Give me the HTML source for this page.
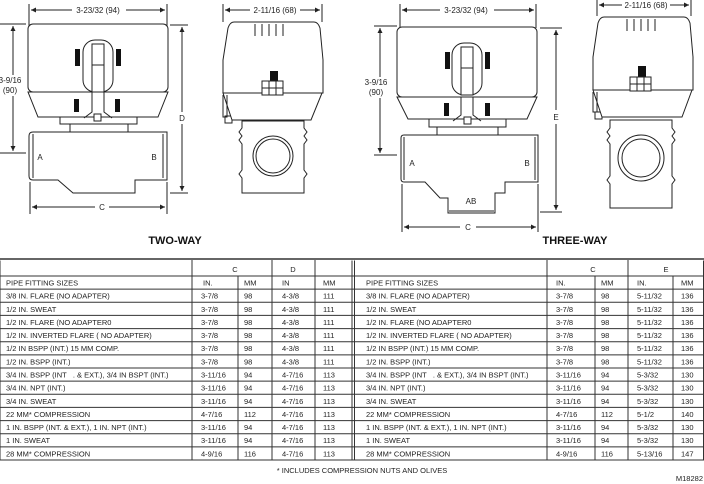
<!DOCTYPE html>
<html><head><style>
html,body{margin:0;padding:0;background:#fff;}
svg{display:block;font-family:"Liberation Sans",sans-serif;}
.t{font-size:7.5px;fill:#222;}
.d{font-size:8px;fill:#222;}
.l{stroke:#222;stroke-width:1;fill:none;}
.s{stroke:#222;stroke-width:1;fill:#fff;}
</style></head><body>
<svg width="704" height="484" viewBox="0 0 704 484" xmlns="http://www.w3.org/2000/svg">
<defs>
<marker id="ar" viewBox="0 0 10 10" refX="10" refY="5" markerWidth="6" markerHeight="5" orient="auto-start-reverse"><path d="M0,0L10,5L0,10z" fill="#222"/></marker>
</defs>

<!-- ===== TWO-WAY FRONT ===== -->
<g class="l">
<line x1="29" y1="4" x2="29" y2="26"/><line x1="167" y1="4" x2="167" y2="26"/>
<line x1="31" y1="10" x2="72" y2="10" marker-start="url(#ar)"/><line x1="126" y1="10" x2="165" y2="10" marker-end="url(#ar)"/>
<line x1="0" y1="24" x2="26" y2="24"/><line x1="0" y1="153" x2="26" y2="153"/>
<line x1="13" y1="26" x2="13" y2="75" marker-start="url(#ar)"/><line x1="13" y1="96" x2="13" y2="151" marker-end="url(#ar)"/>
<line x1="170" y1="25" x2="188" y2="25"/><line x1="170" y1="193" x2="188" y2="193"/>
<line x1="182" y1="27" x2="182" y2="112" marker-start="url(#ar)"/><line x1="182" y1="124" x2="182" y2="191" marker-end="url(#ar)"/>
<line x1="30" y1="182" x2="30" y2="214"/><line x1="167" y1="182" x2="167" y2="214"/>
<line x1="32" y1="207" x2="95" y2="207" marker-start="url(#ar)"/><line x1="109" y1="207" x2="165" y2="207" marker-end="url(#ar)"/>
</g>
<text class="d" x="98" y="13" text-anchor="middle">3-23/32 (94)</text>
<text class="d" x="10" y="83" text-anchor="middle">3-9/16</text>
<text class="d" x="10" y="93" text-anchor="middle">(90)</text>
<text class="d" x="182" y="121" text-anchor="middle">D</text>
<text class="d" x="102" y="210" text-anchor="middle">C</text>
<path class="s" d="M33,132 L167,132 L167,180 L135,180 L135,193 L73,193 L58,180 L33,180 Q29,180 29,176 L29,136 Q29,132 33,132z"/>
<line class="l" x1="33" y1="134" x2="33" y2="178"/><line class="l" x1="163" y1="134" x2="163" y2="178"/>
<path class="s" d="M70,124 L70,132 L128,132 L128,124z"/>
<path class="s" d="M60,116 L137,116 L137,124 L60,124z"/>
<path class="s" d="M28,92 L168,92 L158,117 L38,117z"/>
<rect class="s" x="28" y="24" width="140" height="68" rx="5"/>
<rect class="s" x="83" y="40" width="30" height="52" rx="12"/>
<rect class="s" x="92" y="44" width="12" height="48"/>
<line class="l" x1="92" y1="65" x2="104" y2="65"/>
<g fill="#111"><rect x="75" y="49" width="5" height="17"/><rect x="116" y="49" width="5" height="17"/><rect x="74" y="99" width="5" height="13"/><rect x="115" y="99" width="5" height="13"/></g>
<path class="l" d="M92,92 L92,112 L84,118 M104,92 L104,112 L112,118"/>
<rect class="s" x="94" y="114" width="7" height="7"/>
<text class="d" x="40" y="160" text-anchor="middle">A</text>
<text class="d" x="154" y="160" text-anchor="middle">B</text>
<text x="175" y="244" text-anchor="middle" style="font-size:11px;font-weight:bold;fill:#111">TWO-WAY</text>

<!-- ===== TWO-WAY SIDE ===== -->
<g class="l">
<line x1="223" y1="4" x2="223" y2="22"/><line x1="322" y1="4" x2="322" y2="22"/>
<line x1="225" y1="10" x2="250" y2="10" marker-start="url(#ar)"/><line x1="300" y1="10" x2="320" y2="10" marker-end="url(#ar)"/>
</g>
<text class="d" x="275" y="13" text-anchor="middle">2-11/16 (68)</text>
<path class="s" d="M242,121 L304,121 L304,128 L307,132 L304,136 L307,140 L304,144 L304,170 L307,174 L304,178 L304,193 L242,193 L242,178 L239,174 L242,170 L242,144 L239,140 L242,136 L239,132 L242,128z"/>
<circle class="s" cx="273" cy="156" r="20"/><circle class="l" cx="273" cy="156" r="17"/>
<rect class="s" x="225" y="116" width="7" height="7"/>
<path class="s" d="M223,93 L322,93 L311,120 L232,120z"/>
<path class="s" d="M234,22 L314,22 Q318,22 320,28 L323,60 L323,93 L223,93 L223,60 L228,28 Q230,22 234,22z"/>
<path class="l" d="M223,95 L223,117 L227,117 L227,95"/>
<g class="l"><line x1="255" y1="24" x2="255" y2="36"/><line x1="262" y1="24" x2="262" y2="36"/><line x1="269" y1="24" x2="269" y2="36"/><line x1="276" y1="24" x2="276" y2="36"/><line x1="283" y1="24" x2="283" y2="36"/></g>
<rect x="270" y="71" width="8" height="10" fill="#111"/>
<g class="s"><rect x="262" y="81" width="7" height="7"/><rect x="269" y="81" width="7" height="7"/><rect x="276" y="81" width="7" height="7"/><rect x="262" y="88" width="7" height="7"/><rect x="269" y="88" width="7" height="7"/><rect x="276" y="88" width="7" height="7"/></g>

<!-- ===== THREE-WAY FRONT ===== -->
<g class="l">
<line x1="400" y1="4" x2="400" y2="28"/><line x1="536" y1="4" x2="536" y2="28"/>
<line x1="402" y1="10" x2="440" y2="10" marker-start="url(#ar)"/><line x1="494" y1="10" x2="534" y2="10" marker-end="url(#ar)"/>
<line x1="374" y1="26" x2="397" y2="26"/><line x1="374" y1="155" x2="397" y2="155"/>
<line x1="380" y1="28" x2="380" y2="77" marker-start="url(#ar)"/><line x1="380" y1="98" x2="380" y2="153" marker-end="url(#ar)"/>
<line x1="540" y1="28" x2="562" y2="28"/><line x1="540" y1="212" x2="562" y2="212"/>
<line x1="556" y1="30" x2="556" y2="110" marker-start="url(#ar)"/><line x1="556" y1="124" x2="556" y2="210" marker-end="url(#ar)"/>
<line x1="402" y1="184" x2="402" y2="232"/><line x1="538" y1="184" x2="538" y2="232"/>
<line x1="404" y1="227" x2="460" y2="227" marker-start="url(#ar)"/><line x1="476" y1="227" x2="536" y2="227" marker-end="url(#ar)"/>
</g>
<text class="d" x="466" y="13" text-anchor="middle">3-23/32 (94)</text>
<text class="d" x="376" y="85" text-anchor="middle">3-9/16</text>
<text class="d" x="376" y="95" text-anchor="middle">(90)</text>
<text class="d" x="556" y="120" text-anchor="middle">E</text>
<text class="d" x="468" y="230" text-anchor="middle">C</text>
<path class="s" d="M404,135 L538,135 L538,182 L505,182 L505,193 L495,193 L495,213 L448,213 L448,198 L440,198 L425,182 L404,182 Q401,182 401,179 L401,138 Q401,135 404,135z"/>
<line class="l" x1="449" y1="211" x2="494" y2="211"/>
<line class="l" x1="404" y1="137" x2="404" y2="180"/><line class="l" x1="535" y1="137" x2="535" y2="180"/>
<path class="s" d="M437,127 L437,135 L498,135 L498,127z"/>
<path class="s" d="M429,119 L506,119 L506,127 L429,127z"/>
<path class="s" d="M397,97 L537,97 L527,119 L408,119z"/>
<rect class="s" x="397" y="27" width="140" height="70" rx="5"/>
<rect class="s" x="452" y="43" width="30" height="52" rx="12"/>
<rect class="s" x="461" y="47" width="12" height="48"/>
<line class="l" x1="461" y1="68" x2="473" y2="68"/>
<g fill="#111"><rect x="445" y="52" width="5" height="17"/><rect x="485" y="52" width="5" height="17"/><rect x="444" y="103" width="5" height="13"/><rect x="485" y="103" width="5" height="13"/></g>
<path class="l" d="M461,97 L461,115 L453,121 M473,97 L473,115 L481,121"/>
<rect class="s" x="464" y="117" width="7" height="7"/>
<text class="d" x="412" y="166" text-anchor="middle">A</text>
<text class="d" x="527" y="166" text-anchor="middle">B</text>
<text class="d" x="471" y="204" text-anchor="middle">AB</text>
<text x="575" y="244" text-anchor="middle" style="font-size:11px;font-weight:bold;fill:#111">THREE-WAY</text>

<!-- ===== THREE-WAY SIDE ===== -->
<g class="l">
<line x1="597" y1="0" x2="597" y2="16"/><line x1="691" y1="0" x2="691" y2="16"/>
<line x1="599" y1="5" x2="622" y2="5" marker-start="url(#ar)"/><line x1="670" y1="5" x2="689" y2="5" marker-end="url(#ar)"/>
</g>
<text class="d" x="646" y="8" text-anchor="middle">2-11/16 (68)</text>
<path class="s" d="M610,120 L672,120 L672,128 L675,132 L672,136 L675,140 L672,144 L672,176 L675,180 L672,184 L672,208 L610,208 L610,184 L607,180 L610,176 L610,144 L607,140 L610,136 L607,132 L610,128z"/>
<circle class="s" cx="641" cy="158" r="23"/><circle class="l" cx="641" cy="158" r="19"/>
<rect class="s" x="595" y="112" width="7" height="7"/>
<path class="s" d="M593,90 L692,90 L682,117 L602,117z"/>
<path class="s" d="M604,17 L684,17 Q688,17 690,23 L693,57 L693,90 L593,90 L593,57 L598,23 Q600,17 604,17z"/>
<path class="l" d="M593,92 L593,112 L597,112 L597,92"/>
<g class="l"><line x1="627" y1="19" x2="627" y2="31"/><line x1="634" y1="19" x2="634" y2="31"/><line x1="641" y1="19" x2="641" y2="31"/><line x1="648" y1="19" x2="648" y2="31"/><line x1="655" y1="19" x2="655" y2="31"/></g>
<rect x="638" y="66" width="8" height="11" fill="#111"/>
<g class="s"><rect x="630" y="77" width="7" height="7"/><rect x="637" y="77" width="7" height="7"/><rect x="644" y="77" width="7" height="7"/><rect x="630" y="84" width="7" height="7"/><rect x="637" y="84" width="7" height="7"/><rect x="644" y="84" width="7" height="7"/></g>

<!-- ===== TABLE ===== -->
<g stroke="#333" stroke-width="1" fill="none">
<line x1="0" y1="259" x2="704" y2="259" stroke-width="1.5"/>
<line x1="0" y1="260.5" x2="0" y2="460"/>
<line x1="703.5" y1="260.5" x2="703.5" y2="460"/>
<line x1="352" y1="260.5" x2="352" y2="460"/><line x1="354.5" y1="260.5" x2="354.5" y2="460"/>
<line x1="192" y1="260" x2="192" y2="460"/><line x1="272" y1="260" x2="272" y2="460"/><line x1="315" y1="260" x2="315" y2="460"/>
<line x1="238" y1="276" x2="238" y2="460"/>
<line x1="547" y1="260" x2="547" y2="460"/><line x1="628" y1="260" x2="628" y2="460"/>
<line x1="595" y1="276" x2="595" y2="460"/><line x1="673" y1="276" x2="673" y2="460"/>
<line x1="0" y1="276" x2="704" y2="276"/>
<line x1="0" y1="289.1" x2="704" y2="289.1"/><line x1="0" y1="302.3" x2="704" y2="302.3"/><line x1="0" y1="315.4" x2="704" y2="315.4"/><line x1="0" y1="328.6" x2="704" y2="328.6"/><line x1="0" y1="341.7" x2="704" y2="341.7"/><line x1="0" y1="354.9" x2="704" y2="354.9"/><line x1="0" y1="368" x2="704" y2="368"/><line x1="0" y1="381.1" x2="704" y2="381.1"/><line x1="0" y1="394.3" x2="704" y2="394.3"/><line x1="0" y1="407.4" x2="704" y2="407.4"/><line x1="0" y1="420.6" x2="704" y2="420.6"/><line x1="0" y1="433.7" x2="704" y2="433.7"/><line x1="0" y1="446.9" x2="704" y2="446.9"/>
<line x1="0" y1="460" x2="704" y2="460"/>
</g>
<g class="t">
<text x="235" y="272" text-anchor="middle">C</text><text x="293" y="272" text-anchor="middle">D</text>
<text x="593" y="272" text-anchor="middle">C</text><text x="666" y="272" text-anchor="middle">E</text>
</g>
<g class="t" id="L">
<text x="6" y="285.5">PIPE FITTING SIZES</text><text x="203" y="285.5">IN.</text><text x="244" y="285.5">MM</text><text x="282" y="285.5">IN</text><text x="323" y="285.5">MM</text>
<text x="6" y="298.6">3/8 IN. FLARE (NO ADAPTER)</text><text x="201" y="298.6">3-7/8</text><text x="244" y="298.6">98</text><text x="282" y="298.6">4-3/8</text><text x="323" y="298.6">111</text>
<text x="6" y="311.8">1/2 IN. SWEAT</text><text x="201" y="311.8">3-7/8</text><text x="244" y="311.8">98</text><text x="282" y="311.8">4-3/8</text><text x="323" y="311.8">111</text>
<text x="6" y="324.9">1/2 IN. FLARE (NO ADAPTER0</text><text x="201" y="324.9">3-7/8</text><text x="244" y="324.9">98</text><text x="282" y="324.9">4-3/8</text><text x="323" y="324.9">111</text>
<text x="6" y="338.1">1/2 IN. INVERTED FLARE ( NO ADAPTER)</text><text x="201" y="338.1">3-7/8</text><text x="244" y="338.1">98</text><text x="282" y="338.1">4-3/8</text><text x="323" y="338.1">111</text>
<text x="6" y="351.2">1/2 IN BSPP (INT.) 15 MM COMP.</text><text x="201" y="351.2">3-7/8</text><text x="244" y="351.2">98</text><text x="282" y="351.2">4-3/8</text><text x="323" y="351.2">111</text>
<text x="6" y="364.4">1/2 IN. BSPP (INT.)</text><text x="201" y="364.4">3-7/8</text><text x="244" y="364.4">98</text><text x="282" y="364.4">4-3/8</text><text x="323" y="364.4">111</text>
<text x="6" y="377.5">3/4 IN. BSPP (INT &#160;&#160;. &amp; EXT.), 3/4 IN BSPT (INT.)</text><text x="201" y="377.5">3-11/16</text><text x="244" y="377.5">94</text><text x="282" y="377.5">4-7/16</text><text x="323" y="377.5">113</text>
<text x="6" y="390.6">3/4 IN. NPT (INT.)</text><text x="201" y="390.6">3-11/16</text><text x="244" y="390.6">94</text><text x="282" y="390.6">4-7/16</text><text x="323" y="390.6">113</text>
<text x="6" y="403.8">3/4 IN. SWEAT</text><text x="201" y="403.8">3-11/16</text><text x="244" y="403.8">94</text><text x="282" y="403.8">4-7/16</text><text x="323" y="403.8">113</text>
<text x="6" y="416.9">22 MM* COMPRESSION</text><text x="201" y="416.9">4-7/16</text><text x="244" y="416.9">112</text><text x="282" y="416.9">4-7/16</text><text x="323" y="416.9">113</text>
<text x="6" y="430.1">1 IN. BSPP (INT. &amp; EXT.), 1 IN. NPT (INT.)</text><text x="201" y="430.1">3-11/16</text><text x="244" y="430.1">94</text><text x="282" y="430.1">4-7/16</text><text x="323" y="430.1">113</text>
<text x="6" y="443.2">1 IN. SWEAT</text><text x="201" y="443.2">3-11/16</text><text x="244" y="443.2">94</text><text x="282" y="443.2">4-7/16</text><text x="323" y="443.2">113</text>
<text x="6" y="456.4">28 MM* COMPRESSION</text><text x="201" y="456.4">4-9/16</text><text x="244" y="456.4">116</text><text x="282" y="456.4">4-7/16</text><text x="323" y="456.4">113</text>
</g>
<g class="t">
<text x="366" y="285.5">PIPE FITTING SIZES</text><text x="556" y="285.5">IN.</text><text x="601" y="285.5">MM</text><text x="637" y="285.5">IN.</text><text x="681" y="285.5">MM</text>
<text x="366" y="298.6">3/8 IN. FLARE (NO ADAPTER)</text><text x="556" y="298.6">3-7/8</text><text x="601" y="298.6">98</text><text x="637" y="298.6">5-11/32</text><text x="681" y="298.6">136</text>
<text x="366" y="311.8">1/2 IN. SWEAT</text><text x="556" y="311.8">3-7/8</text><text x="601" y="311.8">98</text><text x="637" y="311.8">5-11/32</text><text x="681" y="311.8">136</text>
<text x="366" y="324.9">1/2 IN. FLARE (NO ADAPTER0</text><text x="556" y="324.9">3-7/8</text><text x="601" y="324.9">98</text><text x="637" y="324.9">5-11/32</text><text x="681" y="324.9">136</text>
<text x="366" y="338.1">1/2 IN. INVERTED FLARE ( NO ADAPTER)</text><text x="556" y="338.1">3-7/8</text><text x="601" y="338.1">98</text><text x="637" y="338.1">5-11/32</text><text x="681" y="338.1">136</text>
<text x="366" y="351.2">1/2 IN BSPP (INT.) 15 MM COMP.</text><text x="556" y="351.2">3-7/8</text><text x="601" y="351.2">98</text><text x="637" y="351.2">5-11/32</text><text x="681" y="351.2">136</text>
<text x="366" y="364.4">1/2 IN. BSPP (INT.)</text><text x="556" y="364.4">3-7/8</text><text x="601" y="364.4">98</text><text x="637" y="364.4">5-11/32</text><text x="681" y="364.4">136</text>
<text x="366" y="377.5">3/4 IN. BSPP (INT &#160;&#160;. &amp; EXT.), 3/4 IN BSPT (INT.)</text><text x="556" y="377.5">3-11/16</text><text x="601" y="377.5">94</text><text x="637" y="377.5">5-3/32</text><text x="681" y="377.5">130</text>
<text x="366" y="390.6">3/4 IN. NPT (INT.)</text><text x="556" y="390.6">3-11/16</text><text x="601" y="390.6">94</text><text x="637" y="390.6">5-3/32</text><text x="681" y="390.6">130</text>
<text x="366" y="403.8">3/4 IN. SWEAT</text><text x="556" y="403.8">3-11/16</text><text x="601" y="403.8">94</text><text x="637" y="403.8">5-3/32</text><text x="681" y="403.8">130</text>
<text x="366" y="416.9">22 MM* COMPRESSION</text><text x="556" y="416.9">4-7/16</text><text x="601" y="416.9">112</text><text x="637" y="416.9">5-1/2</text><text x="681" y="416.9">140</text>
<text x="366" y="430.1">1 IN. BSPP (INT. &amp; EXT.), 1 IN. NPT (INT.)</text><text x="556" y="430.1">3-11/16</text><text x="601" y="430.1">94</text><text x="637" y="430.1">5-3/32</text><text x="681" y="430.1">130</text>
<text x="366" y="443.2">1 IN. SWEAT</text><text x="556" y="443.2">3-11/16</text><text x="601" y="443.2">94</text><text x="637" y="443.2">5-3/32</text><text x="681" y="443.2">130</text>
<text x="366" y="456.4">28 MM* COMPRESSION</text><text x="556" y="456.4">4-9/16</text><text x="601" y="456.4">116</text><text x="637" y="456.4">5-13/16</text><text x="681" y="456.4">147</text>
</g>
<text class="t" x="362" y="473" text-anchor="middle">* INCLUDES COMPRESSION NUTS AND OLIVES</text>
<text class="t" x="703" y="481" text-anchor="end">M18282</text>
</svg>
</body></html>
